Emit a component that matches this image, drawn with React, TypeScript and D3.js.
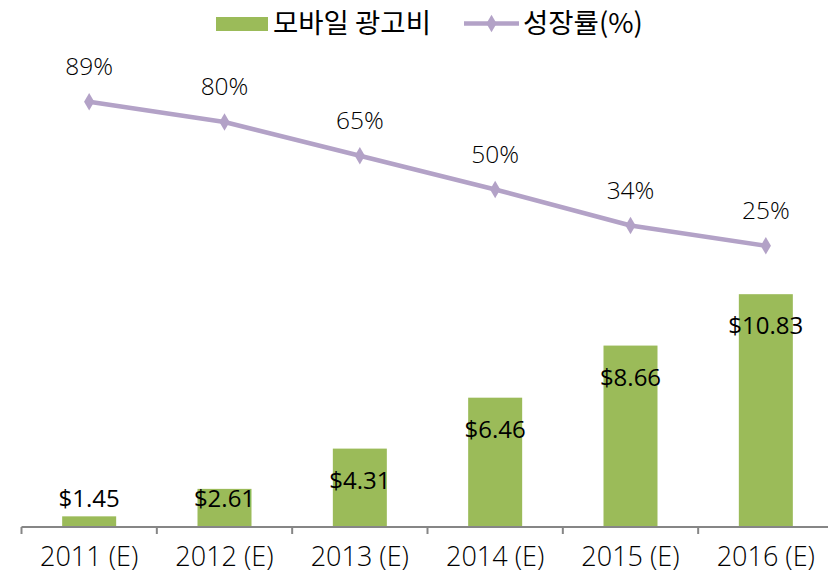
import React from "react";
import * as d3 from "d3";

const categories = ["2011 (E)", "2012 (E)", "2013 (E)", "2014 (E)", "2015 (E)", "2016 (E)"];
const adSpend = [1.45, 2.61, 4.31, 6.46, 8.66, 10.83];
const adSpendLabels = ["$1.45", "$2.61", "$4.31", "$6.46", "$8.66", "$10.83"];
const growth = [89, 80, 65, 50, 34, 25];
const growthLabels = ["89%", "80%", "65%", "50%", "34%", "25%"];
const legendLabels = ["모바일 광고비", "성장률(%)"];

const W = 828;
const H = 573;
const plotLeft = 21.5;
const plotRight = 833.5;
const plotTop = 77;
const plotBottom = 527;

const GREEN = "#9BBB59";
const PURPLE = "#B3A2C7";
const AXIS = "#868686";
const LATIN = "'Open Sans', 'Noto Sans', sans-serif";
const KR = "'Noto Sans CJK KR', 'Noto Sans', sans-serif";

export default function App() {
  const x = d3.scaleBand<string>().domain(categories).range([plotLeft, plotRight]).paddingInner(0).paddingOuter(0);
  const barW = 54;
  const yBar = d3.scaleLinear().domain([1, 20]).range([plotBottom, plotTop]);
  const yLine = d3.scaleLinear().domain([-100, 100]).range([plotBottom, plotTop]);
  const cx = (c: string) => (x(c) as number) + x.bandwidth() / 2;

  const lineGen = d3
    .line<number>()
    .x((_, i) => cx(categories[i]))
    .y((d) => yLine(d));

  const diamond = d3.symbol().type(d3.symbolDiamond).size(90)();
  const ticks = [...categories.map((c) => x(c) as number), plotRight];

  return (
    <svg width={W} height={H} style={{ position: "absolute", left: 0, top: 0, background: "#fff" }}>
      {/* bars */}
      {adSpend.map((v, i) => {
        const c = categories[i];
        const top = yBar(v);
        return (
          <rect key={c} x={cx(c) - barW / 2} y={top} width={barW} height={plotBottom - top} fill={GREEN} />
        );
      })}
      {/* axis */}
      <line x1={plotLeft} x2={plotRight} y1={plotBottom} y2={plotBottom} stroke={AXIS} strokeWidth={2} />
      {ticks.map((t, i) => (
        <line key={i} x1={t} x2={t} y1={plotBottom} y2={plotBottom + 7} stroke={AXIS} strokeWidth={2} />
      ))}
      {categories.map((c) => (
        <text key={c} x={cx(c)} y={565.5} textAnchor="middle" fontFamily={LATIN} fontSize={27} fontWeight={300} fill="#000">
          {c}
        </text>
      ))}
      {/* bar labels */}
      {adSpend.map((v, i) => (
        <text
          key={i}
          x={cx(categories[i])}
          y={Math.min(yBar(v) + 40, 507)}
          textAnchor="middle"
          fontFamily={LATIN}
          fontSize={24}
          fill="#000"
        >
          {adSpendLabels[i]}
        </text>
      ))}
      {/* line */}
      <path d={lineGen(growth) || ""} fill="none" stroke={PURPLE} strokeWidth={4.5} strokeLinejoin="round" />
      {growth.map((v, i) => (
        <path key={i} d={diamond || ""} transform={`translate(${cx(categories[i])},${yLine(v)})`} fill={PURPLE} />
      ))}
      {growth.map((v, i) => (
        <text
          key={i}
          x={cx(categories[i])}
          y={yLine(v) - 27}
          textAnchor="middle"
          fontFamily={LATIN}
          fontSize={24.5}
          fontWeight={300}
          fill="#000"
        >
          {growthLabels[i]}
        </text>
      ))}
      {/* legend */}
      <rect x={216} y={17} width={52} height={14} fill={GREEN} />
      <text x={273} y={33} fontFamily={KR} fontSize={27.5} fill="#000">
        {legendLabels[0]}
      </text>
      <line x1={464} x2={519} y1={23.5} y2={23.5} stroke={PURPLE} strokeWidth={4.5} />
      <path d={diamond || ""} transform="translate(491.5,23.5)" fill={PURPLE} />
      <text x={523} y={33} fontFamily={KR} fontSize={27.5} fill="#000">
        {legendLabels[1]}
      </text>
    </svg>
  );
}
